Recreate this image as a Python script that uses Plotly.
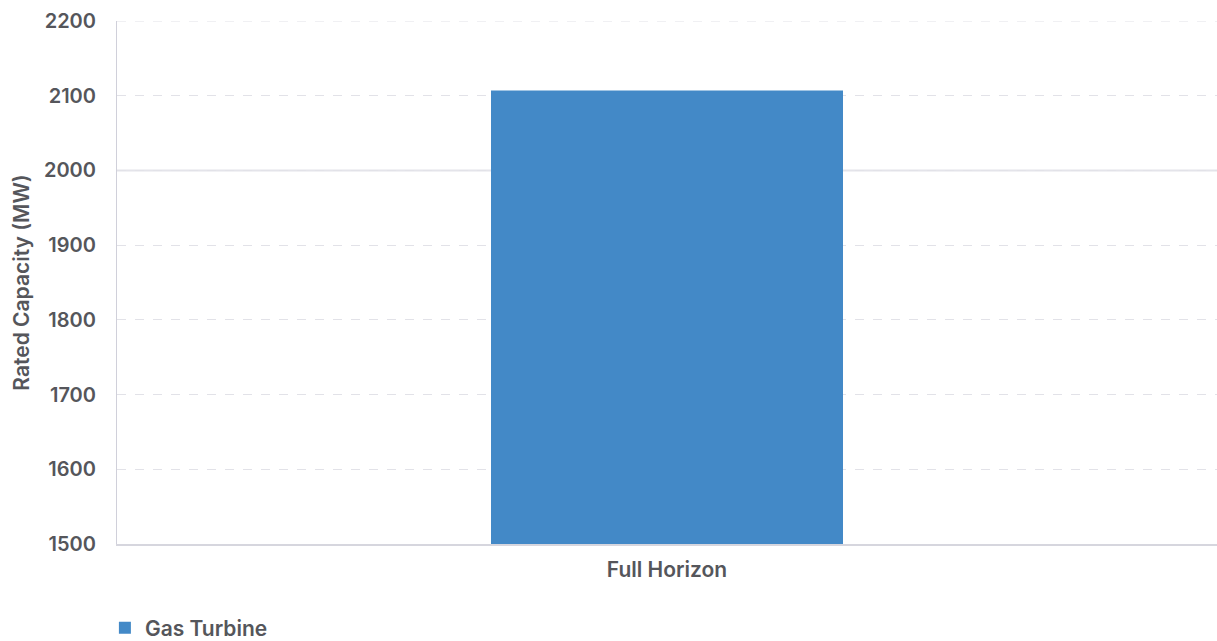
import plotly.graph_objects as go

categories = ["Full Horizon"]
gas_turbine = [2107]
y_ticks = [1500, 1600, 1700, 1800, 1900, 2000, 2100, 2200]
reference_level = 2000

font_family = "Inter, Lato, sans-serif"
text_color = "#55565b"
grid_color = "#e2e2e8"

fig = go.Figure()
fig.add_trace(go.Bar(
    x=categories,
    y=gas_turbine,
    name="Gas Turbine",
    marker=dict(color="#4389c7", line=dict(width=0)),
    width=0.32,
))

# solid reference line at 2000, dashed line along the top tick
fig.add_hline(y=reference_level, line=dict(color="#e4e4ea", width=2), layer="below")
fig.add_hline(y=y_ticks[-1], line=dict(color=grid_color, width=1, dash="dash"), layer="below")

fig.update_layout(
    width=1217,
    height=641,
    margin=dict(l=117, r=0, t=21, b=97, autoexpand=False),
    paper_bgcolor="white",
    plot_bgcolor="white",
    font=dict(family=font_family, size=20, color=text_color),
    showlegend=True,
    legend=dict(
        orientation="h",
        yref="container",
        x=-0.011, xanchor="left",
        y=0.02, yanchor="middle",
        font=dict(family=font_family, size=21, color=text_color, weight=600),
        itemwidth=30,
    ),
    xaxis=dict(
        showgrid=False,
        showline=True,
        linecolor="#d6d6de",
        linewidth=2,
        ticks="",
        tickfont=dict(size=21, color=text_color, weight=600),
        ticklabelstandoff=6,
    ),
    yaxis=dict(
        range=[1500, 2200],
        tickvals=y_ticks,
        showgrid=True,
        gridcolor=grid_color,
        griddash="dash",
        gridwidth=1,
        zeroline=False,
        showline=True,
        linecolor="#d0d0da",
        linewidth=1,
        ticks="",
        tickfont=dict(size=20, color=text_color, weight=600),
        ticklabelstandoff=16,
        title=dict(text="Rated Capacity (MW)", font=dict(size=21, color=text_color, weight=600), standoff=8),
    ),
)

fig.write_html("out.html")
